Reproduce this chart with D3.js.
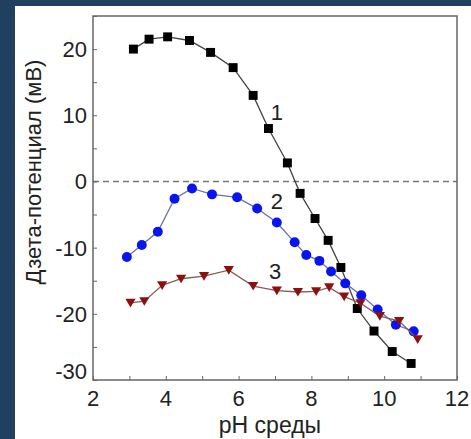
<!DOCTYPE html>
<html lang="ru">
<head>
<meta charset="UTF-8">
<title>Дзета-потенциал</title>
<script src="https://d3js.org/d3.v7.min.js"></script>
<style>
  body { margin: 0; background: #213f5f; }
  svg { display: block; }
  text { font-family: 'Liberation Sans', Arial, sans-serif; fill: #222; }
</style>
</head>
<body>
<div id="chart"></div>
<script>
// data
const ph1 = [3.11, 3.54, 4.05, 4.65, 5.23, 5.85, 6.40, 6.82, 7.34, 7.69, 8.10, 8.46, 8.81, 9.26, 9.72, 10.22, 10.74];
const zeta1 = [20.0, 21.5, 21.85, 21.3, 19.5, 17.2, 13.0, 8.0, 2.8, -1.8, -5.6, -8.9, -13.0, -19.2, -22.6, -25.7, -27.5];

const ph2 = [2.93, 3.34, 3.78, 4.24, 4.72, 5.27, 5.96, 6.51, 7.05, 7.54, 7.86, 8.22, 8.54, 8.93, 9.37, 9.82, 10.32, 10.81];
const zeta2 = [-11.4, -9.6, -7.6, -2.6, -1.05, -1.95, -2.4, -4.1, -6.2, -9.2, -11.1, -12.0, -13.6, -15.4, -17.2, -19.35, -21.65, -22.65];

const ph3 = [3.03, 3.41, 3.90, 4.42, 5.05, 5.73, 6.40, 7.05, 7.63, 8.13, 8.49, 8.90, 9.35, 9.88, 10.41, 10.92];
const zeta3 = [-18.35, -18.1, -15.7, -14.7, -14.3, -13.4, -15.8, -16.5, -16.7, -16.6, -16.0, -17.4, -18.4, -20.35, -21.1, -23.85];

const xTicks = [2, 4, 6, 8, 10, 12];
const yTicks = [-30, -20, -10, 0, 10, 20];
const curveLabels = [
  {text: "1", x: 7.05, y: 10.5},
  {text: "2", x: 7.05, y: -3.0},
  {text: "3", x: 7.0, y: -13.5}
];

const W = 471, H = 439;
const margin = {top: 16, right: 14, bottom: 59, left: 93};

const svg = d3.select("#chart").append("svg")
  .attr("width", W).attr("height", H);

// white panel inside the dark border
svg.append("rect")
  .attr("x", 15).attr("y", 6)
  .attr("width", W - 15).attr("height", H - 6)
  .attr("fill", "#ffffff");

const x = d3.scaleLinear().domain([2, 12]).range([margin.left, W - margin.right]);
const y = d3.scaleLinear().domain([-30, 25]).range([H - margin.bottom, margin.top]);

// zero line
svg.append("line")
  .attr("x1", x(2)).attr("x2", x(12))
  .attr("y1", y(0)).attr("y2", y(0))
  .attr("stroke", "#777").attr("stroke-width", 1.6)
  .attr("stroke-dasharray", "6,4");

// axes with inward ticks
const xAxis = svg.append("g")
  .attr("transform", `translate(0,${y(-30)})`)
  .call(d3.axisTop(x).tickValues(d3.range(2, 12.01, 1)).tickSize(4).tickFormat(""));
xAxis.select(".domain").remove();
xAxis.selectAll("line").attr("stroke", "#666");

const yAxis = svg.append("g")
  .attr("transform", `translate(${x(2)},0)`)
  .call(d3.axisRight(y).tickValues(d3.range(-30, 25.01, 5)).tickSize(4).tickFormat(""));
yAxis.select(".domain").remove();
yAxis.selectAll("line").attr("stroke", "#666");

// frame
svg.append("rect")
  .attr("x", x(2)).attr("y", y(25))
  .attr("width", x(12) - x(2)).attr("height", y(-30) - y(25))
  .attr("fill", "none").attr("stroke", "#666").attr("stroke-width", 1.5);

// tick labels
svg.selectAll(".xl").data(xTicks).join("text")
  .attr("x", d => x(d)).attr("y", y(-30) + 26)
  .attr("text-anchor", "middle").attr("font-size", 22)
  .text(d => d);

svg.selectAll(".yl").data(yTicks).join("text")
  .attr("x", x(2) - 6)
  .attr("y", d => y(d) + (d === -30 ? -1 : 8))
  .attr("text-anchor", "end").attr("font-size", 22)
  .text(d => d);

// axis titles
svg.append("text")
  .attr("x", 270).attr("y", 433)
  .attr("text-anchor", "middle").attr("font-size", 23)
  .text("pH среды");

svg.append("text")
  .attr("transform", `translate(41,172) rotate(-90)`)
  .attr("text-anchor", "middle").attr("font-size", 22)
  .text("Дзета-потенциал (мВ)");

const line = d3.line().x(d => x(d[0])).y(d => y(d[1]));

function series(phs, vals, lineColor, markColor, shape, size) {
  const pts = phs.map((p, i) => [p, vals[i]]);
  svg.append("path").datum(pts)
    .attr("d", line)
    .attr("fill", "none").attr("stroke", lineColor).attr("stroke-width", 1.3);
  svg.append("g").selectAll("path").data(pts).join("path")
    .attr("transform", d => `translate(${x(d[0])},${y(d[1])})`)
    .attr("d", d3.symbol().type(shape).size(size))
    .attr("fill", markColor);
}

const triDown = {
  draw(ctx, size) {
    const s = Math.sqrt(size / 0.75);
    ctx.moveTo(-s / 2, -s * 0.4);
    ctx.lineTo(s / 2, -s * 0.4);
    ctx.lineTo(0, s * 0.45);
    ctx.closePath();
  }
};

series(ph1, zeta1, "#444", "#000", d3.symbolSquare, 80);
series(ph2, zeta2, "#6a72a8", "#0a14f0", d3.symbolCircle, 78);
series(ph3, zeta3, "#8a5a5a", "#8b1010", triDown, 78);

// curve numbers
svg.selectAll(".cl").data(curveLabels).join("text")
  .attr("x", d => x(d.x)).attr("y", d => y(d.y) + 8)
  .attr("text-anchor", "middle").attr("font-size", 22)
  .text(d => d.text);
</script>
</body>
</html>
